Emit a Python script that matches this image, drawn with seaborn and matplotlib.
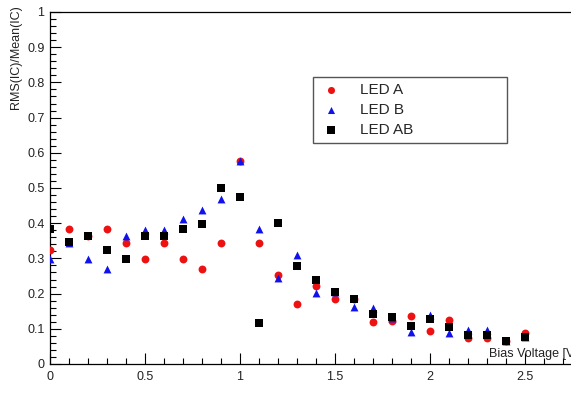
import matplotlib
matplotlib.use("Agg")
import matplotlib.pyplot as plt
from matplotlib.ticker import MultipleLocator, FuncFormatter
import seaborn as sns
import pandas as pd

# Bias voltage scan points [V]
bias_voltage = [0.0, 0.1, 0.2, 0.3, 0.4, 0.5, 0.6, 0.7, 0.8, 0.9,
                1.0, 1.1, 1.2, 1.3, 1.4, 1.5, 1.6, 1.7, 1.8, 1.9,
                2.0, 2.1, 2.2, 2.3, 2.4, 2.5]

# RMS(IC)/Mean(IC) for each LED configuration
led_a = [0.325, 0.383, 0.364, 0.383, 0.345, 0.297, 0.345, 0.297, 0.270, 0.345,
         0.578, 0.344, 0.253, 0.170, 0.222, 0.186, 0.185, 0.118, 0.123, 0.136,
         0.093, 0.125, 0.073, 0.073, 0.066, 0.087]
led_b = [0.297, 0.345, 0.297, 0.269, 0.364, 0.381, 0.381, 0.411, 0.437, 0.468,
         0.576, 0.383, 0.243, 0.310, 0.201, 0.204, 0.161, 0.159, 0.132, 0.092,
         0.140, 0.087, 0.096, 0.096, 0.066, 0.078]
led_ab = [0.383, 0.346, 0.364, 0.324, 0.299, 0.364, 0.364, 0.383, 0.399, 0.501,
          0.474, 0.117, 0.401, 0.277, 0.240, 0.205, 0.186, 0.141, 0.133, 0.109,
          0.128, 0.106, 0.081, 0.081, 0.066, 0.077]

series_names = ["LED A", "LED B", "LED AB"]

df = pd.concat([
    pd.DataFrame({"bias": bias_voltage, "ratio": led_a, "series": "LED A"}),
    pd.DataFrame({"bias": bias_voltage, "ratio": led_b, "series": "LED B"}),
    pd.DataFrame({"bias": bias_voltage, "ratio": led_ab, "series": "LED AB"}),
], ignore_index=True)

sns.set_theme(style="ticks")
plt.rcParams["font.family"] = ["Liberation Sans", "DejaVu Sans"]

W, H = 571, 401
fig = plt.figure(figsize=(W / 100, H / 100), dpi=100)
x_max = 2.78
left_px, top_px, bottom_px, unit_px = 50, 12, 364, 190
ax = fig.add_axes([left_px / W, 1 - bottom_px / H,
                   x_max * unit_px / W, (bottom_px - top_px) / H])

palette = {"LED A": "#ee1111", "LED B": "#1111ee", "LED AB": "#000000"}
markers = {"LED A": "o", "LED B": "^", "LED AB": "s"}
sizes = {"LED A": 32, "LED B": 32, "LED AB": 33}

for name in series_names:
    sub = df[df["series"] == name]
    sns.scatterplot(data=sub, x="bias", y="ratio", color=palette[name],
                    marker=markers[name], s=sizes[name], linewidth=0,
                    label=name, ax=ax, zorder=3)

ax.set_xlim(0, x_max)
ax.set_ylim(0, 1)

ax.xaxis.set_major_locator(MultipleLocator(0.5))
ax.xaxis.set_minor_locator(MultipleLocator(0.1))
ax.yaxis.set_major_locator(MultipleLocator(0.1))
ax.yaxis.set_minor_locator(MultipleLocator(0.02))
ax.xaxis.set_major_formatter(FuncFormatter(lambda v, p: f"{v:g}"))
ax.yaxis.set_major_formatter(FuncFormatter(lambda v, p: f"{v:g}"))

ax.tick_params(which="both", direction="in", top=False, right=False,
               colors="black", labelsize=9, labelcolor="#222222")
ax.tick_params(which="major", length=8, width=0.8)
ax.tick_params(which="minor", length=4, width=0.8)
ax.tick_params(axis="x", which="major", pad=5)
ax.tick_params(axis="y", which="major", pad=4)

for sp in ax.spines.values():
    sp.set_color("black")
    sp.set_linewidth(0.9)

ax.set_xlabel("")
ax.set_ylabel("")
fig.text(16 / W, 1 - 5 / H, "RMS(IC)/Mean(IC)", rotation=90, ha="center",
         va="top", fontsize=9, color="#222222")
fig.text(1.0, 1 - 390 / H, "Bias Voltage [V]", ha="right", va="center",
         fontsize=9, color="#222222", transform=ax.transAxes)

leg = ax.legend(loc="upper left",
                bbox_to_anchor=(313 / W, 1 - 77 / H, 194 / W, 0),
                bbox_transform=fig.transFigure, mode="expand",
                borderaxespad=0, frameon=True, fancybox=False,
                fontsize=11, handletextpad=1.1, handlelength=1.6,
                borderpad=0.4, labelspacing=0.4, markerscale=0.9)
leg.get_frame().set_edgecolor("#555555")
leg.get_frame().set_linewidth(1.0)
leg.get_frame().set_alpha(1)

fig.savefig("out.png", dpi=100)
